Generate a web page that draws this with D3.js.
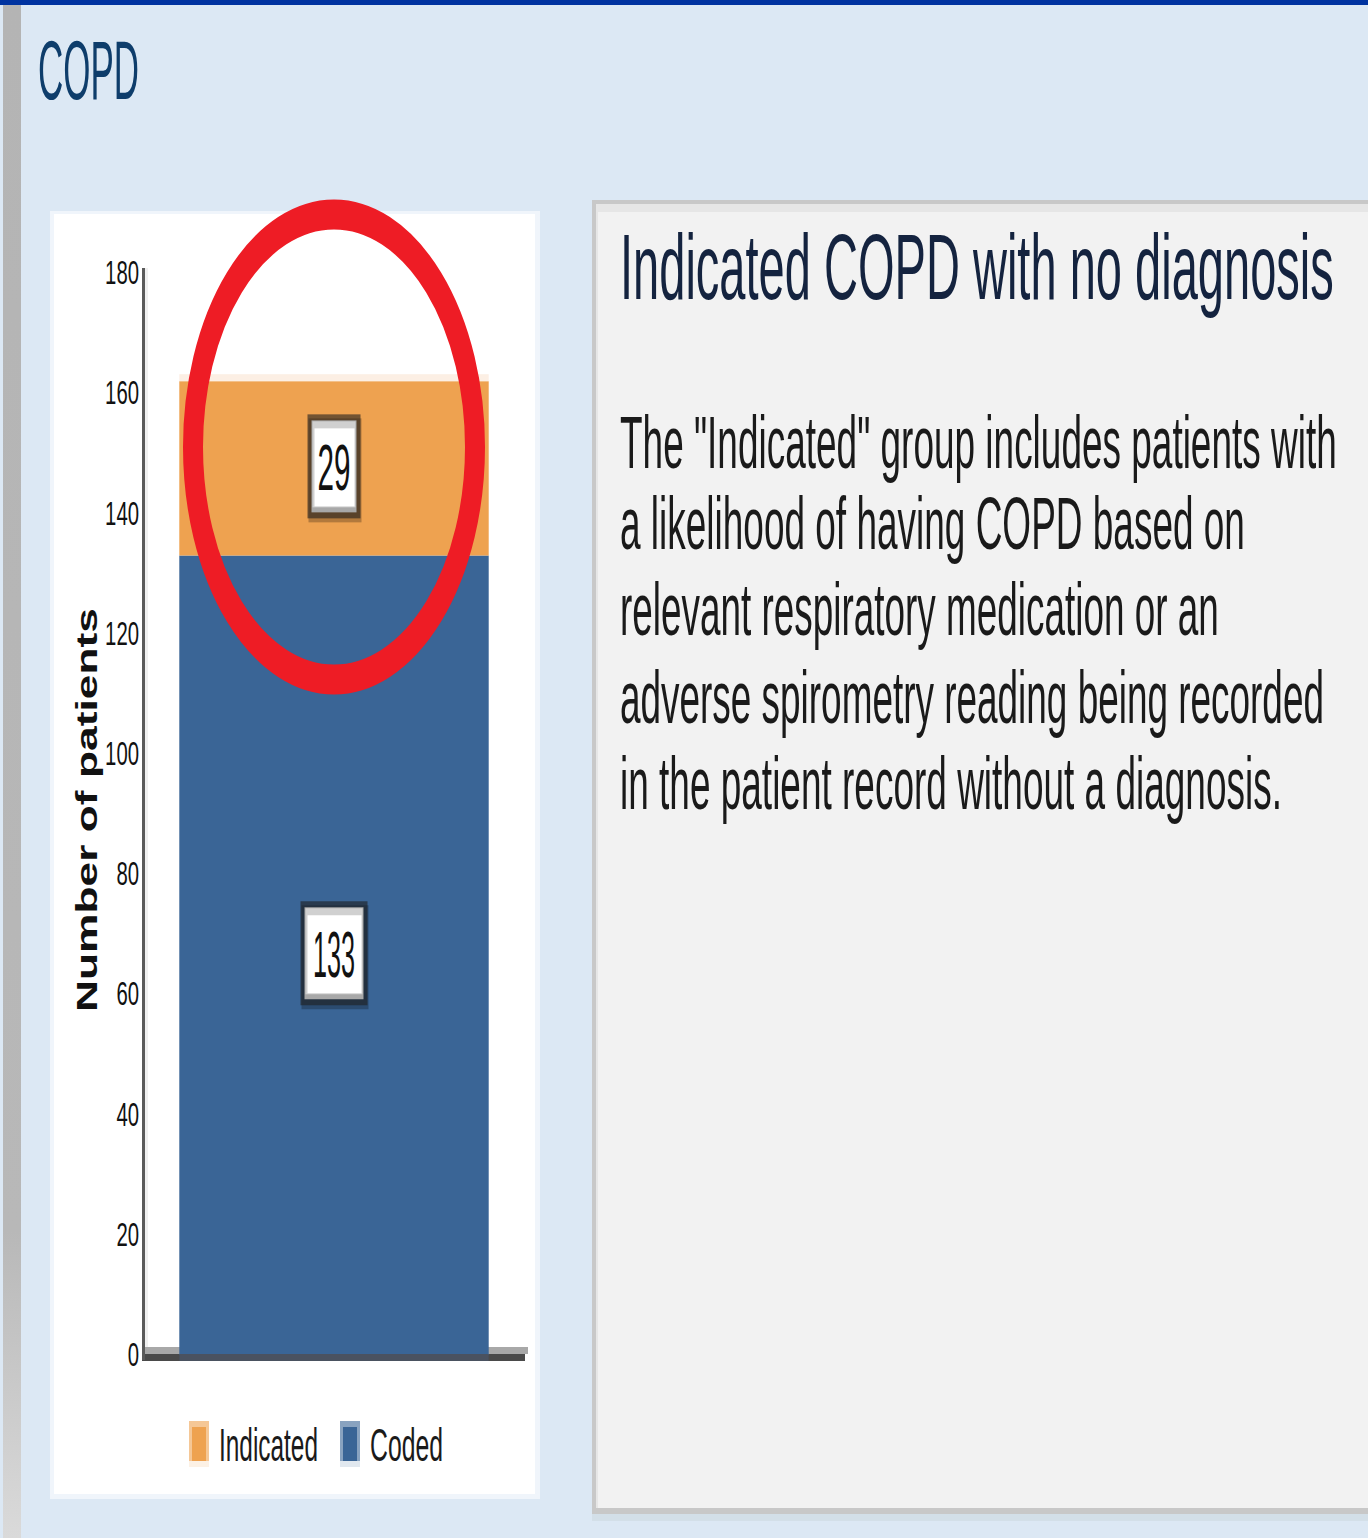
<!DOCTYPE html>
<html>
<head>
<meta charset="utf-8">
<script src="https://cdn.jsdelivr.net/npm/d3@7"></script>
<style>
  html, body { margin: 0; padding: 0; background: #dce8f4; }
  svg { display: block; }
  text { font-family: "Liberation Sans", Arial, sans-serif; }
</style>
</head>
<body>
<svg id="chart" width="1368" height="1538"></svg>
<script>
// ---- data ----
const categories = ["COPD"];
const seriesNames = ["Coded", "Indicated"];
const codedValues = [133];
const indicatedValues = [29];
const yTicks = [0, 20, 40, 60, 80, 100, 120, 140, 160, 180];
const legendLabels = ["Indicated", "Coded"];
const seriesColors = ["#3a6596", "#eea250"];
const pageTitle = "COPD";
const panelTitle = "Indicated COPD with no diagnosis";
const panelLines = [
  "The \"Indicated\" group includes patients with",
  "a likelihood of having COPD based on",
  "relevant respiratory medication or an",
  "adverse spirometry reading being recorded",
  "in the patient record without a diagnosis."
];
const panelLineLengths = [717, 625, 599, 704, 662];
const yAxisTitle = "Number of patients";

const svg = d3.select("#chart");

// squeeze a text horizontally to a target width, keeping its anchor point
function squeeze(sel, target) {
  sel.each(function(d, i) {
    const w = this.getComputedTextLength();
    const t = typeof target === "function" ? target(d, i) : target;
    const k = w > 0 ? t / w : 1;
    const base = this.getAttribute("data-base") || "";
    this.setAttribute("transform", base + ` scale(${k},1)`);
  });
  return sel;
}

// ---- page chrome ----
svg.append("rect").attr("x", 0).attr("y", 0).attr("width", 1368).attr("height", 1538).attr("fill", "#dce8f4");
svg.append("rect").attr("x", 0).attr("y", 0).attr("width", 1368).attr("height", 5).attr("fill", "#0033a0");
const grad = svg.append("defs").append("linearGradient").attr("id", "lg").attr("x1", 0).attr("y1", 0).attr("x2", 0).attr("y2", 1);
grad.append("stop").attr("offset", "0").attr("stop-color", "#b4b4b4");
grad.append("stop").attr("offset", "0.8").attr("stop-color", "#b8b8b8");
grad.append("stop").attr("offset", "1").attr("stop-color", "#dadada");
svg.append("rect").attr("x", 3).attr("y", 5).attr("width", 18).attr("height", 1533).attr("fill", "url(#lg)");

svg.append("text").attr("data-base", "translate(38,99)")
  .attr("font-size", 84).attr("fill", "#0e3d6b").attr("font-family", "Lato, 'Liberation Sans', sans-serif").attr("font-weight", 300)
  .text(pageTitle).call(squeeze, 101);

// ---- chart panel ----
svg.append("rect").attr("x", 50).attr("y", 211).attr("width", 490).attr("height", 1288).attr("fill", "#f0f5fb");
svg.append("rect").attr("x", 54).attr("y", 214).attr("width", 481).attr("height", 1280).attr("fill", "#ffffff");

// ---- text panel ----
svg.append("rect").attr("x", 592).attr("y", 200).attr("width", 776).attr("height", 1321).attr("fill", "#d3dfe8");
svg.append("rect").attr("x", 592).attr("y", 200).attr("width", 776).attr("height", 1314).attr("fill", "#c8c8c8");
svg.append("rect").attr("x", 596).attr("y", 204).attr("width", 772).attr("height", 1304).attr("fill", "#e6e6e6");
svg.append("rect").attr("x", 598).attr("y", 212).attr("width", 770).attr("height", 1296).attr("fill", "#f2f2f2");

svg.append("text").attr("data-base", "translate(620,299)")
  .attr("font-size", 92).attr("fill", "#14233f")
  .text(panelTitle).call(squeeze, 714);

const lineBaselines = [468, 549, 635, 723, 809];
svg.append("g").selectAll("text").data(panelLines).join("text")
  .attr("data-base", (d, i) => `translate(620,${lineBaselines[i]})`)
  .attr("font-size", 75).attr("fill", "#1a1a1a")
  .text(d => d)
  .call(squeeze, (d, i) => panelLineLengths[i]);

// ---- scales ----
const y = d3.scaleLinear().domain([0, 180]).range([1355, 273]);
const x = d3.scaleBand().domain(categories).range([143, 525]).paddingInner(0.105).paddingOuter(0.105);

// ---- baseline ----
svg.append("rect").attr("x", 142).attr("y", y(0) - 8).attr("width", 386).attr("height", 7).attr("fill", "#a8a8a8");
svg.append("rect").attr("x", 142).attr("y", y(0) - 1).attr("width", 383).attr("height", 7).attr("fill", "#4a4a4a");

// ---- stacked bars ----
const rows = categories.map((c, i) => ({ cat: c, Coded: codedValues[i], Indicated: indicatedValues[i] }));
const stack = d3.stack().keys(seriesNames)(rows);
const color = d3.scaleOrdinal().domain(seriesNames).range(seriesColors);

const layers = svg.append("g").selectAll("g").data(stack).join("g").attr("fill", d => color(d.key));
layers.selectAll("rect").data(d => d).join("rect")
  .attr("x", d => x(d.data.cat))
  .attr("width", x.bandwidth())
  .attr("y", d => y(d[1]))
  .attr("height", d => y(d[0]) - y(d[1]));
// soft top edge of stack
svg.append("g").selectAll("rect").data(rows).join("rect")
  .attr("x", d => x(d.cat)).attr("width", x.bandwidth())
  .attr("y", d => y(d.Coded + d.Indicated) - 7).attr("height", 7)
  .attr("fill", "#fcefe4");
// dark baseline over bar
svg.append("rect").attr("x", x(categories[0])).attr("y", y(0) - 1).attr("width", x.bandwidth()).attr("height", 7).attr("fill", "#4a5260");

// ---- y axis ----
const axis = d3.axisLeft(y).tickValues(yTicks).tickSize(0).tickPadding(5);
const gAxis = svg.append("g").attr("transform", "translate(143,0)").call(axis);
gAxis.select(".domain").remove();
gAxis.selectAll("text")
  .attr("font-family", "'Liberation Sans', Arial, sans-serif")
  .attr("font-size", 33).attr("fill", "#111")
  .attr("x", 0).attr("data-base", "translate(-4,0)")
  .call(squeeze, d => String(d).length * 11.3);
svg.append("rect").attr("x", 142).attr("y", 268).attr("width", 3).attr("height", y(0) - 268 + 5).attr("fill", "#5a5a5a");
svg.append("rect").attr("x", 145).attr("y", 268).attr("width", 3).attr("height", y(0) - 268 - 8).attr("fill", "#f0f0f0");

svg.append("text")
  .attr("data-base", "translate(97,1012) rotate(-90)")
  .attr("font-size", 30).attr("font-weight", "bold").attr("fill", "#111")
  .text(yAxisTitle).call(squeeze, 404);

// ---- data labels ----
const labels = [];
stack.forEach(layer => layer.forEach(d => labels.push({ v: d[1] - d[0], mid: (d[0] + d[1]) / 2, cat: d.data.cat })));
const lg = svg.append("g").selectAll("g").data(labels).join("g")
  .attr("transform", d => `translate(${x(d.cat) + x.bandwidth() / 2},${y(d.mid)})`);
const bw = d => String(d.v).length <= 2 ? 53 : 67;
lg.append("rect").attr("x", d => -bw(d) / 2 + 1).attr("y", -50).attr("width", d => bw(d)).attr("height", 104).attr("fill", "rgba(0,0,0,0.25)");
lg.append("rect").attr("x", d => -bw(d) / 2).attr("y", -54).attr("width", d => bw(d)).attr("height", 104).attr("fill", "rgba(30,30,30,0.6)");
lg.append("rect").attr("x", d => -bw(d) / 2 + 4).attr("y", -48).attr("width", d => bw(d) - 8).attr("height", 92).attr("fill", "#a8a8a8");
lg.append("rect").attr("x", d => -bw(d) / 2 + 5).attr("y", -47).attr("width", d => bw(d) - 10).attr("height", 86).attr("fill", "#d0d0d0");
lg.append("rect").attr("x", d => -bw(d) / 2 + 7).attr("y", -40).attr("width", d => bw(d) - 13).attr("height", 78).attr("fill", "#ffffff");
lg.append("text").attr("text-anchor", "middle").attr("data-base", "translate(0,22)")
  .attr("font-size", 64).attr("fill", "#111")
  .text(d => d.v)
  .call(squeeze, d => String(d.v).length <= 2 ? 33 : 42);

// ---- red ellipse annotation ----
svg.append("ellipse")
  .attr("transform", `translate(${x(categories[0]) + x.bandwidth() / 2},447) scale(1,1.5)`)
  .attr("rx", 141).attr("ry", 155)
  .attr("fill", "none").attr("stroke", "#ee1c25").attr("stroke-width", 20);

// ---- legend ----
const legendX = [189, 340];
const legendTextLen = [99, 73];
const legendColors = legendLabels.map(l => color(l));
const leg = svg.append("g").selectAll("g").data(legendLabels).join("g")
  .attr("transform", (d, i) => `translate(${legendX[i]},1421)`);
leg.append("rect").attr("width", 20).attr("height", 46).attr("fill", (d, i) => d3.interpolateRgb(legendColors[i], "#ffffff")(0.85));
leg.append("rect").attr("y", 0).attr("width", 20).attr("height", 40).attr("fill", (d, i) => d3.interpolateRgb(legendColors[i], "#ffffff")(0.4));
leg.append("rect").attr("x", 3).attr("y", 6).attr("width", 14).attr("height", 34).attr("fill", (d, i) => legendColors[i]);
leg.append("text").attr("data-base", "translate(30,40)")
  .attr("font-size", 47).attr("fill", "#1a1a1a")
  .text(d => d)
  .call(squeeze, (d, i) => legendTextLen[i]);
</script>
</body>
</html>
